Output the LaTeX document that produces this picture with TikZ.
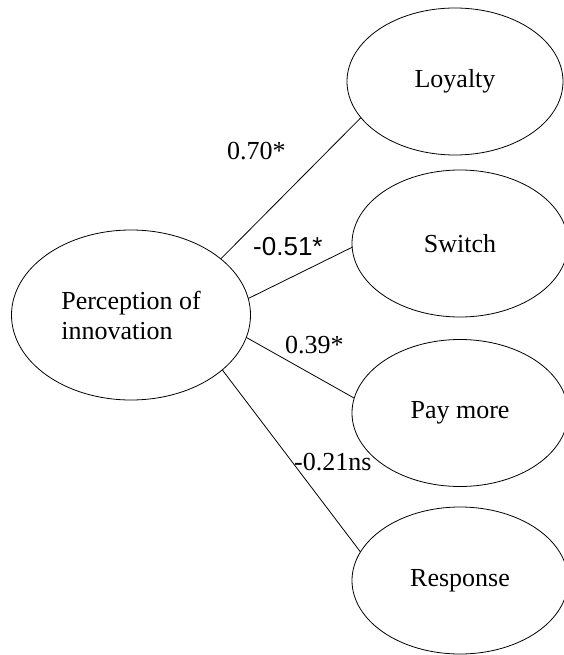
\documentclass[tikz,border=0pt]{standalone}
\usepackage{fontspec}
\setmainfont{Liberation Serif}
\newfontfamily\labsans{Liberation Sans}
\usetikzlibrary{shapes.geometric}
\begin{document}
\begin{tikzpicture}[x=1pt,y=-1pt,
  oval/.style={draw, ellipse, line width=0.8pt, inner sep=0pt, outer sep=0pt,
    font=\fontsize{26}{30}\selectfont, align=center},
  small/.style={oval, minimum width=216pt, minimum height=147pt},
  big/.style={oval, minimum width=239pt, minimum height=170pt, align=left},
  lab/.style={inner sep=0pt, anchor=base west, font=\fontsize{26}{30}\selectfont},
  link/.style={line width=0.8pt}]
\useasboundingbox (0,0) rectangle (564,655);
\node[big] (P) at (131,315) {Perception of\\innovation};
\node[small] (L) at (455,81.5) {Loyalty};
\node[small] (S) at (460,243.5) {Switch};
\node[small] (M) at (460,413) {Pay more};
\node[small] (R) at (460,580.5) {Response};
\draw[link] (P.32) -- (L.201.4);
\draw[link] (P.8.2) -- (S.182.9);
\draw[link] (P.-11.6) -- (M.172.5);
\draw[link] (P.-31.8) -- (R.164.2);
\node[lab] (l1) at (227,160) {0.70*};
\node[lab, font=\fontsize{26}{30}\labsans] (l2) at (253,255) {-0.51*};
\node[lab] (l3) at (285,353) {0.39*};
\node[lab] (l4) at (294,470) {-0.21ns};
\end{tikzpicture}
\end{document}
